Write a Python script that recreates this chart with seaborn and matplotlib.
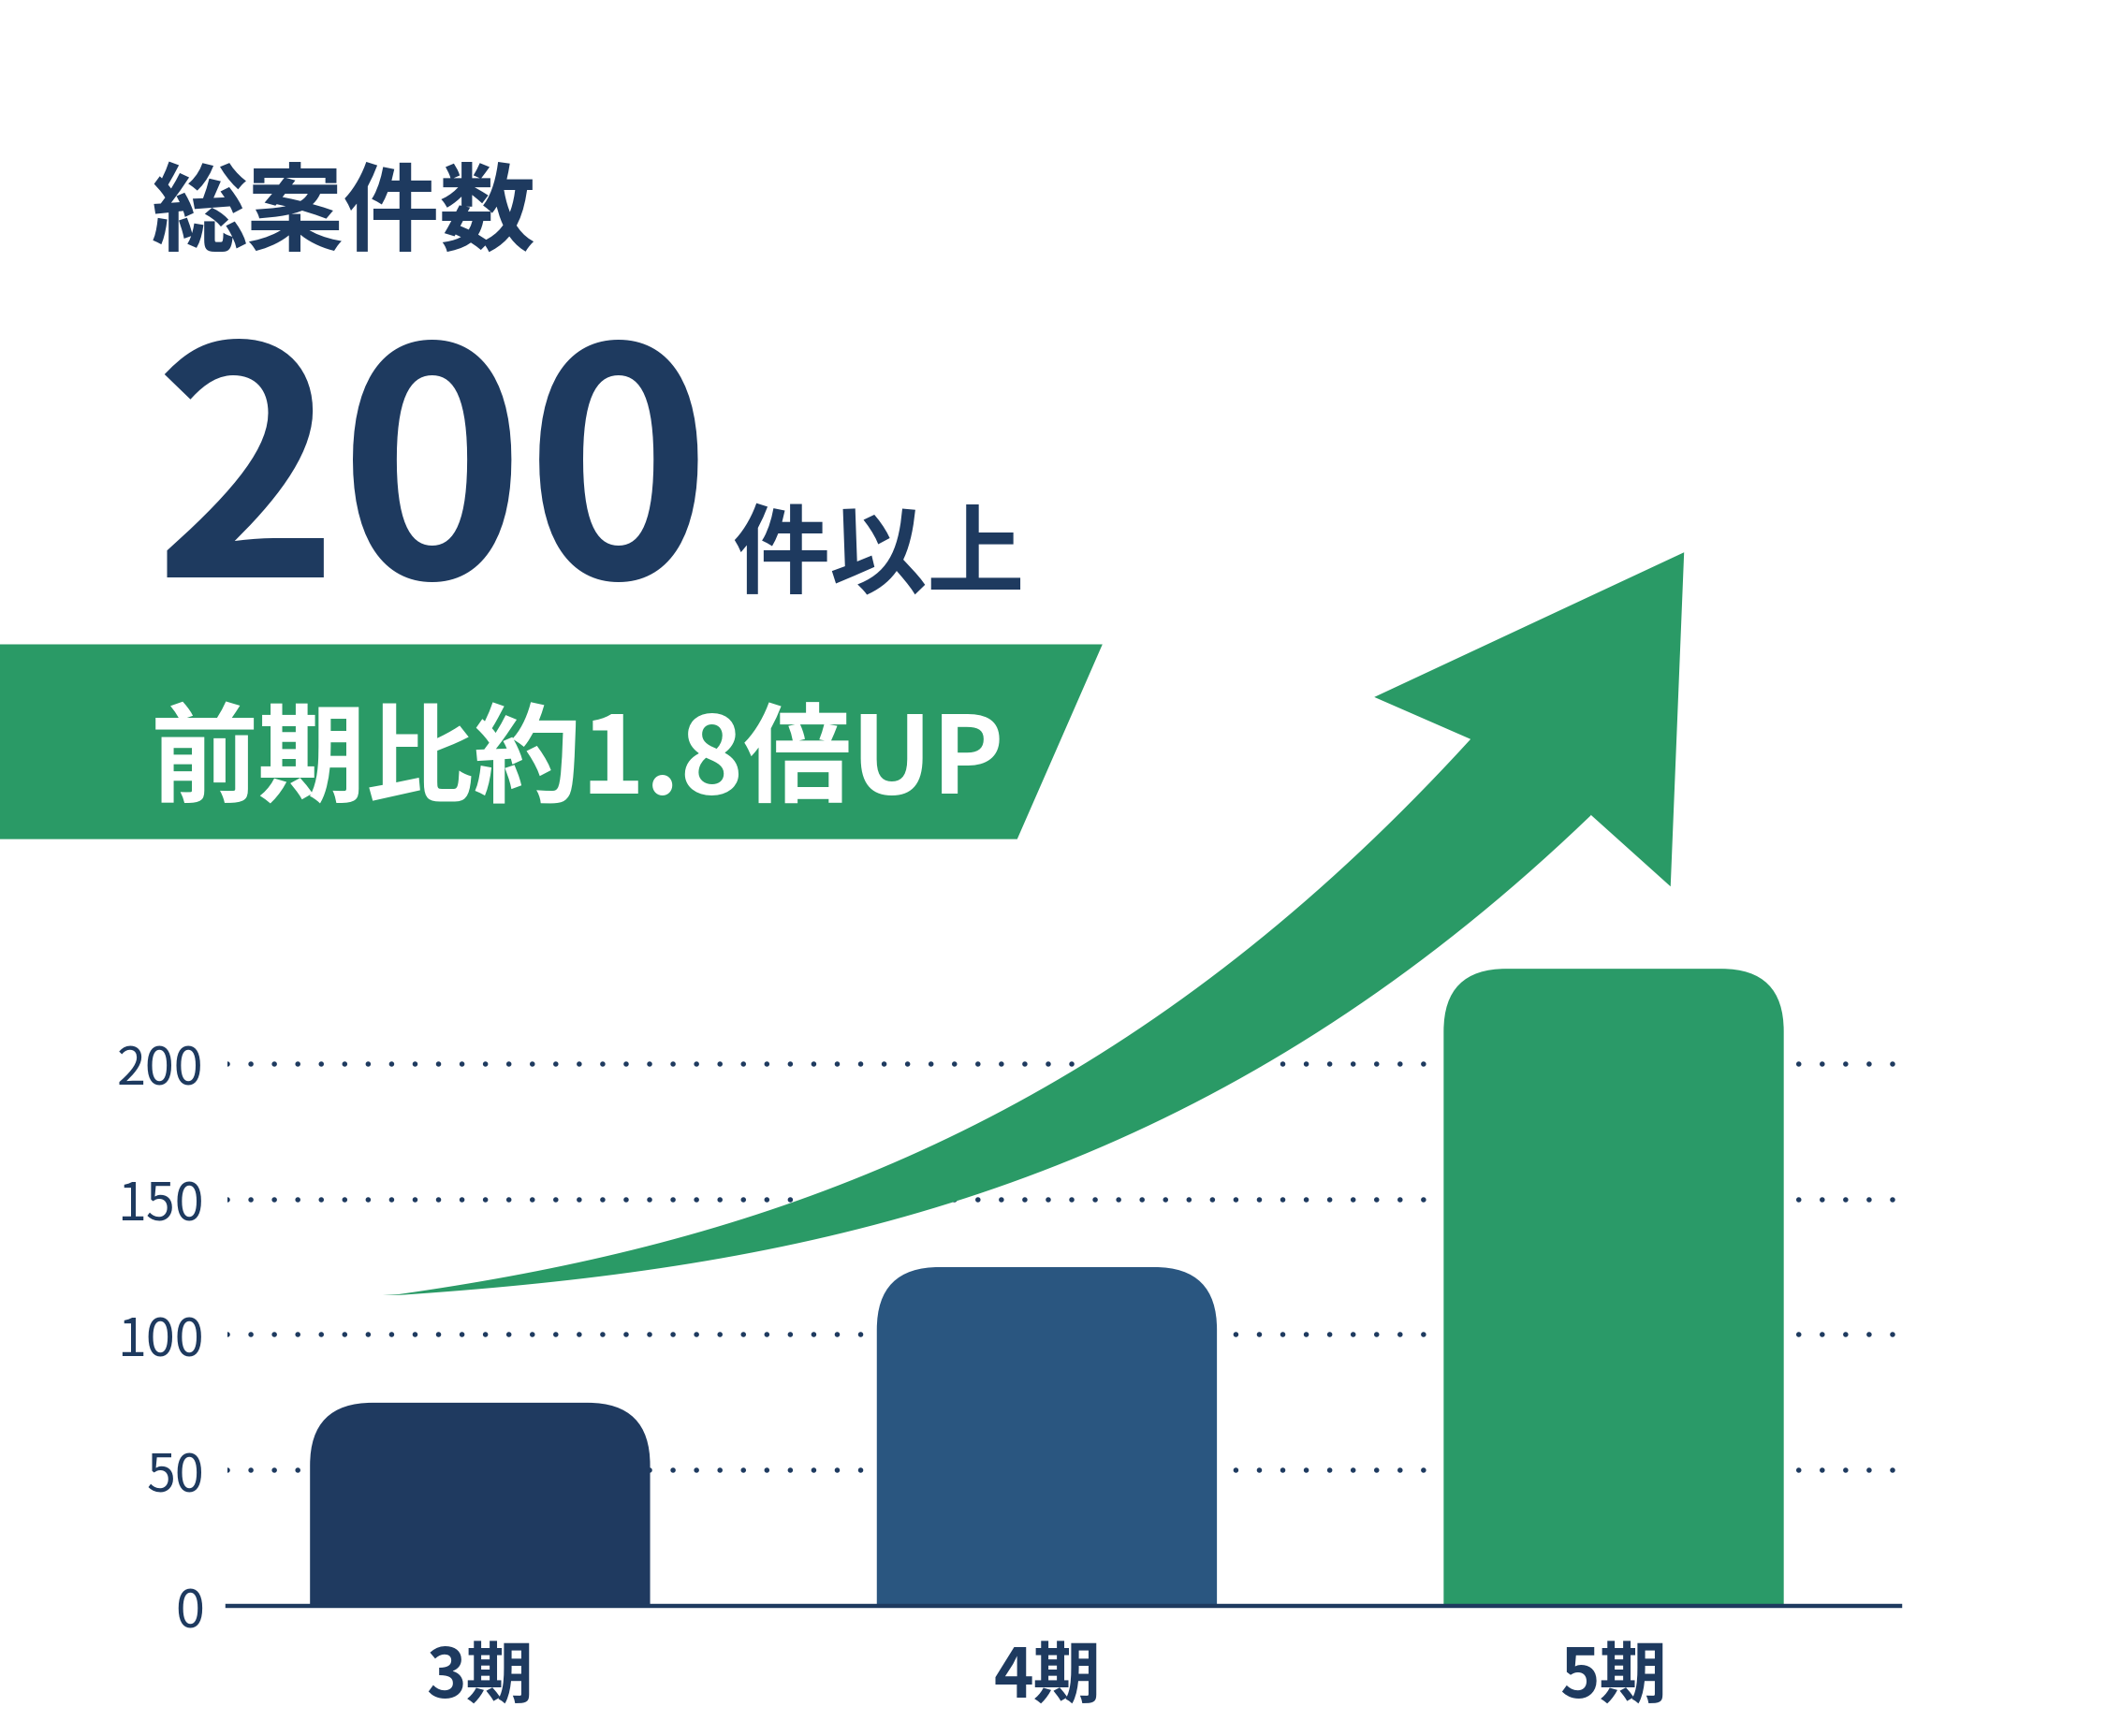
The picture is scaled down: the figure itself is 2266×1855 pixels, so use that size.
import numpy as np
import pandas as pd
import matplotlib
matplotlib.use('Agg')
import matplotlib.pyplot as plt
from matplotlib.patches import FancyBboxPatch, Polygon
import seaborn as sns

# chart data
periods = ['3期', '4期', '5期']
counts = [75, 125, 235]
y_ticks = [0, 50, 100, 150, 200]

headline_label = '総案件数'
headline_value = '200'
headline_unit = '件以上'
banner_text = '前期比約1.8倍UP'

navy = '#1e3a5f'
green = '#2a9a66'
palette = ['#1f3a60', '#2a5680', '#2a9a68']

sns.set_style('white')
plt.rcParams['font.family'] = ['Noto Sans CJK JP', 'DejaVu Sans']

df = pd.DataFrame({'period': periods, 'count': counts})

W, H = 1568, 1284  # layout frame used for positions
fig = plt.figure(figsize=(22.66, 18.56), dpi=100)
fig.patch.set_facecolor('white')

# bar chart axes
ax = fig.add_axes([168 / W, 1 - 1188 / H, (1405 - 168) / W, 501.25 / H])
sns.barplot(data=df, x='period', y='count', hue='period', palette=palette,
            width=0.6, legend=False, ax=ax, saturation=1)

# replace plain bars with top-rounded ones
rx, ry = 0.11, 23
for p in ax.patches[:]:
    x, w, h = p.get_x(), p.get_width(), p.get_height()
    fc = p.get_facecolor()
    p.set_visible(False)
    ax.add_patch(FancyBboxPatch((x, -ry), w, h + ry,
                                boxstyle=f'round,pad=0,rounding_size={rx}',
                                mutation_aspect=ry / rx, facecolor=fc,
                                edgecolor='none', zorder=2))

ax.set_xlim(-0.446, 2.506)
ax.set_ylim(0, 250)
ax.set_yticks(y_ticks)
ax.set_xlabel('')
ax.set_ylabel('')
ax.set_axisbelow(True)
ax.grid(True, axis='y', color=navy, linewidth=4.0,
        linestyle=(0, (0.01, 4.5)), dash_capstyle='round')
ax.grid(False, axis='x')
ax.yaxis.get_gridlines()[0].set_visible(False)
for s in ['top', 'right', 'left']:
    ax.spines[s].set_visible(False)
ax.spines['bottom'].set_color(navy)
ax.spines['bottom'].set_linewidth(3.2)
ax.spines['bottom'].set_zorder(3)
ax.tick_params(axis='y', length=0, pad=18, labelsize=40, labelcolor=navy)
ax.tick_params(axis='x', length=0, pad=27, labelsize=52, labelcolor=navy)
for t in ax.get_xticklabels():
    t.set_fontweight('bold')
ax.patch.set_alpha(0)

# overlay for headline, banner and arrow
ov = fig.add_axes([0, 0, 1, 1])
ov.set_xlim(0, W)
ov.set_ylim(H, 0)
ov.axis('off')
ov.patch.set_alpha(0)

ov.text(112, 180, headline_label, fontsize=74, fontweight='bold',
        color=navy, va='baseline', ha='left')
ov.text(113, 427, headline_value, fontsize=243, fontweight='bold',
        color=navy, va='baseline', ha='left')
ov.text(541, 433, headline_unit, fontsize=75, fontweight='bold',
        color=navy, va='baseline', ha='left')

ov.add_patch(Polygon([(0, 477), (815, 477), (752, 621), (0, 621)],
                     closed=True, facecolor=green, edgecolor='none'))
ov.text(111, 587, banner_text, fontsize=83, fontweight='bold',
        color='white', va='baseline', ha='left')

# growth arrow
ux = [285, 388, 485, 580, 805, 1087]
uy = [958, 942, 926, 885, 787, 547]
lx = [285, 388, 485, 711, 935, 969, 1176]
ly = [958, 951, 940, 885, 787, 769, 603]
cu = np.polyfit(ux, uy, 3)
cl = np.polyfit(lx, ly, 3)
xu = np.linspace(285, 1087, 80)
xl = np.linspace(1176, 285, 80)
upper = np.column_stack([xu, np.polyval(cu, xu)])
lower = np.column_stack([xl, np.polyval(cl, xl)])
upper[0] = (283, 958)
lower[-1] = (283, 958)
head = np.array([(1087, 547), (1016, 516), (1245, 409), (1235, 656), (1176, 603)])
arrow_pts = np.vstack([upper, head, lower])
ov.add_patch(Polygon(arrow_pts, closed=True, facecolor=green, edgecolor='none'))

fig.savefig('out.png', dpi=100, facecolor='white')
